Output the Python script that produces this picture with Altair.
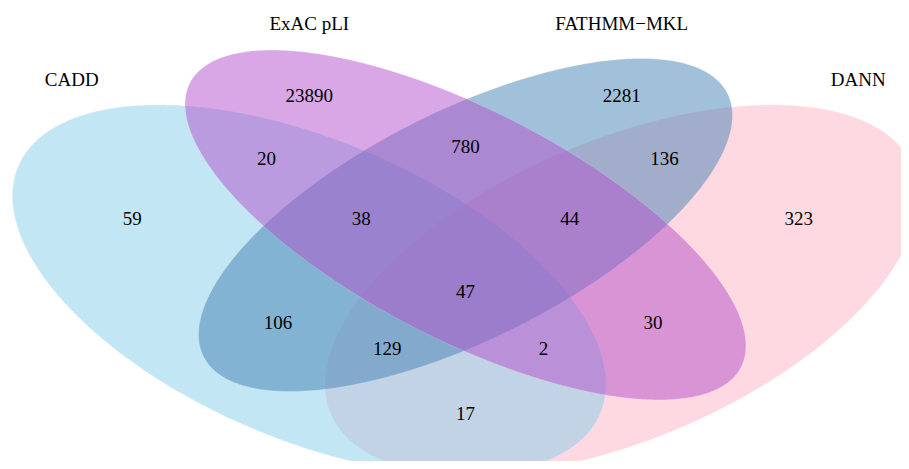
import numpy as np
import pandas as pd
import altair as alt

# ---- data ----
set_names = ["CADD", "ExAC pLI", "FATHMM−MKL", "DANN"]
region_counts = [59, 23890, 2281, 323, 20, 780, 136, 38, 44, 47, 106, 30, 129, 2, 17]

# ---- layout (unit square geometry of a 4-set Venn) ----
set_colors = {"CADD": "#87CEEB", "ExAC pLI": "#B452CD",
              "FATHMM−MKL": "#4682B4", "DANN": "#FFB5C5"}
ell_center = {"CADD": (0.35, 0.47), "ExAC pLI": (0.50, 0.57),
              "FATHMM−MKL": (0.50, 0.57), "DANN": (0.65, 0.47)}
ell_axes = {"CADD": (0.35, 0.20), "ExAC pLI": (0.35, 0.15),
            "FATHMM−MKL": (0.33, 0.15), "DANN": (0.35, 0.20)}
ell_rot = {"CADD": 135, "ExAC pLI": 135, "FATHMM−MKL": 45, "DANN": 45}
draw_order = ["DANN", "CADD", "FATHMM−MKL", "ExAC pLI"]

title_pos = [(0.122, 0.793), (0.350, 0.879), (0.650, 0.879), (0.877, 0.793)]
count_pos = [(0.180, 0.579), (0.350, 0.769), (0.650, 0.769), (0.820, 0.579),
             (0.309, 0.672), (0.500, 0.690), (0.691, 0.672), (0.400, 0.579),
             (0.600, 0.579), (0.500, 0.467), (0.320, 0.419), (0.680, 0.419),
             (0.425, 0.379), (0.575, 0.379), (0.500, 0.279)]

X_DOM = [0.0608, 0.9181]
Y_DOM = [0.2068, 0.9040]


def ellipse_band(name, n=400):
    cx, cy = ell_center[name]
    a, b = ell_axes[name]
    th = np.deg2rad(ell_rot[name])
    c, s = np.cos(th), np.sin(th)
    A = s * s / a**2 + c * c / b**2
    B = 2 * s * c * (1 / a**2 - 1 / b**2)
    C = c * c / a**2 + s * s / b**2
    xmax = np.sqrt(4 * A / (4 * A * C - B * B))
    X = xmax * np.cos(np.linspace(np.pi, 0, n))
    disc = np.clip(B * B * X * X - 4 * A * (C * X * X - 1), 0, None)
    yh = (-B * X + np.sqrt(disc)) / (2 * A)
    yl = (-B * X - np.sqrt(disc)) / (2 * A)
    return pd.DataFrame({"x": np.round(cx + X, 5),
                         "yhi": np.round(cy + yh, 5),
                         "ylo": np.round(cy + yl, 5)})


xs = alt.Scale(domain=X_DOM, nice=False, zero=False)
ys = alt.Scale(domain=Y_DOM, nice=False, zero=False)

layers = []
for name in draw_order:
    df = ellipse_band(name)
    layers.append(
        alt.Chart(df).mark_area(interpolate="linear", stroke="white",
                                strokeWidth=0.6, strokeOpacity=0.5)
        .encode(x=alt.X("x:Q", scale=xs, axis=None),
                y=alt.Y("yhi:Q", scale=ys, axis=None),
                y2=alt.Y2("ylo"),
                color=alt.value(set_colors[name]),
                opacity=alt.value(0.5))
    )

labels = pd.DataFrame({
    "text": set_names + [str(v) for v in region_counts],
    "x": [p[0] for p in title_pos] + [p[0] for p in count_pos],
    "y": [p[1] for p in title_pos] + [p[1] for p in count_pos],
})
text = alt.Chart(labels).mark_text(font="Liberation Serif", fontSize=19,
                                   color="black", align="center",
                                   baseline="middle").encode(
    x=alt.X("x:Q", scale=xs, axis=None),
    y=alt.Y("y:Q", scale=ys, axis=None),
    text="text:N")

chart = alt.layer(*layers, text).properties(
    width=893, height=453, padding=0, autosize=alt.AutoSizeParams(type="none")
).configure_view(stroke=None)

chart.save("out.html", embed_options={"renderer": "svg", "actions": False})
